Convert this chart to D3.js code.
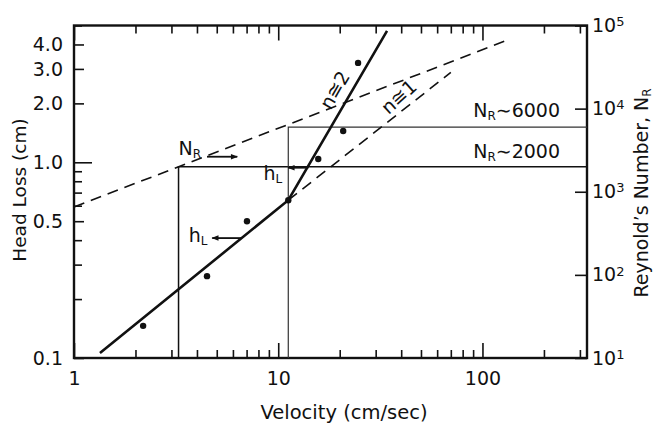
<!DOCTYPE html>
<html>
<head>
<meta charset="utf-8">
<script src="https://cdn.jsdelivr.net/npm/d3@7"></script>
<style>
    body { margin: 0; background: #fff; }
    svg text { font-family: "DejaVu Sans", sans-serif; fill: #111; }
</style>
</head>
<body>
<div id="chart-container"></div>
<script>
// Measured points (velocity cm/sec, head loss cm)
const pointVelocity = [2.18, 4.48, 7.03, 11.2, 15.7, 20.8, 24.6];
const pointHeadLoss = [0.146, 0.262, 0.5, 0.64, 1.04, 1.445, 3.22];

// Fitted head loss line: laminar part, then n≅2 part
const fitVelocity = [1.34, 11.2, 34.1];
const fitHeadLoss = [0.106, 0.64, 4.69];

// Laminar extension, n≅1 (dashed)
const laminarVelocity = [11.2, 70];
const laminarHeadLoss = [0.64, 2.88];

// Reynolds number against velocity (dashed, right axis)
const reVelocity = [1, 133];
const reNumber = [656, 67000];

// Critical Reynolds numbers and the velocities where they are reached
const criticalRe = [2000, 6000];
const criticalVelocity = [3.25, 11.2];
const criticalLabels = ["2000", "6000"];

// Tick labels
const xTickValues = [1, 10, 100];
const yTickValues = [0.1, 0.5, 1, 2, 3, 4];
const yTickLabels = ["0.1", "0.5", "1.0", "2.0", "3.0", "4.0"];
const reTickValues = [1e1, 1e2, 1e3, 1e4, 1e5];

// Chart dimensions
const margin = { top: 25.5, right: 68, bottom: 65, left: 74 };
const width = 655 - margin.left - margin.right;
const height = 423 - margin.top - margin.bottom;
const fontSize = 19;

const svg = d3
    .select("#chart-container")
    .append("svg")
    .attr("width", width + margin.left + margin.right)
    .attr("height", height + margin.top + margin.bottom)
    .append("g")
    .attr("transform", "translate(" + margin.left + "," + margin.top + ")");

// Scales
const x = d3.scaleLog().domain([1, 325]).range([0, width]);
const y = d3.scaleLog().domain([0.1, 5]).range([height, 0]);
const yRe = d3.scaleLog().domain([10, 1e5]).range([height, 0]);

const minorX = x.ticks().filter((d) => !xTickValues.includes(d));
const minorY = y.ticks().filter((d) => !yTickValues.some((v) => Math.abs(v - d) < 1e-9));

// arrow head
svg.append("defs")
    .append("marker")
    .attr("id", "arrow")
    .attr("viewBox", "0 0 10 10")
    .attr("refX", 9)
    .attr("refY", 5)
    .attr("markerWidth", 8)
    .attr("markerHeight", 7)
    .attr("markerUnits", "userSpaceOnUse")
    .attr("orient", "auto")
    .append("path")
    .attr("d", "M0,1 L10,5 L0,9 Z")
    .attr("fill", "#111");

function styleAxis(g) {
    g.select(".domain").remove();
    g.attr("font-size", fontSize).attr("font-family", "DejaVu Sans, sans-serif");
    g.selectAll(".tick line").attr("stroke", "#111").attr("stroke-width", 1.6);
}

// Bottom axis
svg.append("g")
    .attr("transform", "translate(0," + height + ")")
    .call(d3.axisBottom(x).tickValues(minorX).tickSizeInner(-8).tickSizeOuter(0).tickFormat(""))
    .call(styleAxis);
svg.append("g")
    .attr("transform", "translate(0," + height + ")")
    .call(d3.axisBottom(x).tickValues(xTickValues).tickSizeInner(-15).tickSizeOuter(0).tickPadding(14).tickFormat(d3.format("d")))
    .call(styleAxis);

// Top axis
svg.append("g")
    .call(d3.axisTop(x).tickValues(minorX).tickSizeInner(-8).tickSizeOuter(0).tickFormat(""))
    .call(styleAxis);
svg.append("g")
    .call(d3.axisTop(x).tickValues(xTickValues).tickSizeInner(-15).tickSizeOuter(0).tickFormat(""))
    .call(styleAxis);

// Left axis
svg.append("g")
    .call(d3.axisLeft(y).tickValues(minorY).tickSizeInner(-8).tickSizeOuter(0).tickFormat(""))
    .call(styleAxis);
svg.append("g")
    .call(d3.axisLeft(y).tickValues(yTickValues).tickSizeInner(-10).tickSizeOuter(0).tickPadding(11)
        .tickFormat((d, i) => yTickLabels[i]))
    .call(styleAxis)
    .call((g) => g.selectAll(".tick line").filter((d) => d === 1).attr("x2", 18));

// Right axis (Reynold's number)
svg.append("g")
    .attr("transform", "translate(" + width + ",0)")
    .call(d3.axisRight(yRe).tickValues(reTickValues).tickSizeInner(-12).tickSizeOuter(0).tickPadding(5).tickFormat(""))
    .call(styleAxis)
    .call((g) => {
        const t = g.selectAll(".tick text");
        t.append("tspan").text("10");
        t.append("tspan").attr("dy", "-0.45em").attr("font-size", 13).text((d) => Math.round(Math.log10(d)));
    });

// Frame
svg.append("rect")
    .attr("width", width)
    .attr("height", height)
    .attr("fill", "none")
    .attr("stroke", "#111")
    .attr("stroke-width", 2.4);

// Critical Reynolds number lines
criticalRe.forEach((re, i) => {
    const cx = x(criticalVelocity[i]);
    const cy = yRe(re);
    svg.append("path")
        .attr("d", "M" + width + "," + cy + "H" + cx + "V" + height)
        .attr("fill", "none")
        .attr("stroke", i === 0 ? "#111" : "#333")
        .attr("stroke-width", i === 0 ? 1.5 : 1.2);

    const lab = svg.append("text")
        .attr("x", width - 27)
        .attr("y", cy - (i === 0 ? 9 : 10))
        .attr("text-anchor", "end")
        .attr("font-size", fontSize);
    lab.append("tspan").text("N");
    lab.append("tspan").attr("font-size", 12).attr("dy", 3).text("R");
    lab.append("tspan").attr("dy", -3).text("\u223C" + criticalLabels[i]);
});

const line = d3.line().x((d) => x(d[0])).y((d) => y(d[1]));
const lineRe = d3.line().x((d) => x(d[0])).y((d) => yRe(d[1]));

// Dashed lines
svg.append("path")
    .datum(d3.zip(reVelocity, reNumber))
    .attr("d", lineRe)
    .attr("fill", "none")
    .attr("stroke", "#111")
    .attr("stroke-width", 1.6)
    .attr("stroke-dasharray", "11,7");

svg.append("path")
    .datum(d3.zip(laminarVelocity, laminarHeadLoss))
    .attr("d", line)
    .attr("fill", "none")
    .attr("stroke", "#111")
    .attr("stroke-width", 1.6)
    .attr("stroke-dasharray", "11,7");

// Fitted head loss line
svg.append("path")
    .datum(d3.zip(fitVelocity, fitHeadLoss))
    .attr("d", line)
    .attr("fill", "none")
    .attr("stroke", "#111")
    .attr("stroke-width", 2.6);

// Data points
svg.selectAll("circle.pt")
    .data(d3.zip(pointVelocity, pointHeadLoss))
    .enter()
    .append("circle")
    .attr("class", "pt")
    .attr("cx", (d) => x(d[0]))
    .attr("cy", (d) => y(d[1]))
    .attr("r", 3.2)
    .attr("fill", "#111");

// Annotations
function nrText(sel) {
    sel.append("tspan").text("N");
    sel.append("tspan").attr("font-size", 12).attr("dy", 3).text("R");
}
function hlText(sel) {
    sel.append("tspan").text("h");
    sel.append("tspan").attr("font-size", 12).attr("dy", 3).text("L");
}
function arrow(x1, y1, x2, y2) {
    svg.append("line")
        .attr("x1", x1).attr("y1", y1)
        .attr("x2", x2).attr("y2", y2)
        .attr("stroke", "#111")
        .attr("stroke-width", 1.8)
        .attr("marker-end", "url(#arrow)");
}

const y2000 = yRe(criticalRe[0]);

svg.append("text")
    .attr("x", x(criticalVelocity[0]))
    .attr("y", y2000 - 12)
    .attr("font-size", fontSize)
    .call(nrText);
arrow(x(4.48), y2000 - 10, x(6.3), y2000 - 10);

svg.append("text")
    .attr("x", x(criticalVelocity[1]) - 6)
    .attr("y", y2000 + 13)
    .attr("text-anchor", "end")
    .attr("font-size", fontSize)
    .call(hlText);
arrow(x(criticalVelocity[1]) + 20, y2000 + 1, x(criticalVelocity[1]), y2000 + 1);

svg.append("text")
    .attr("x", x(4.5))
    .attr("y", y(0.39))
    .attr("text-anchor", "end")
    .attr("font-size", fontSize)
    .call(hlText);
arrow(x(6.6), y(0.41), x(4.75), y(0.41));

svg.append("text")
    .attr("transform", "translate(" + x(18.9) + "," + y(2.34) + ") rotate(-60)")
    .attr("text-anchor", "middle")
    .attr("dy", "0.35em")
    .attr("font-size", fontSize)
    .text("n\u22452");

svg.append("text")
    .attr("transform", "translate(" + x(39) + "," + y(2.16) + ") rotate(-42)")
    .attr("text-anchor", "middle")
    .attr("dy", "0.35em")
    .attr("font-size", fontSize)
    .text("n\u22451");

// Axis titles
svg.append("text")
    .attr("x", 270)
    .attr("y", height + 61)
    .attr("text-anchor", "middle")
    .attr("font-size", 19.5)
    .text("Velocity (cm/sec)");

svg.append("text")
    .attr("transform", "translate(" + (26 - margin.left) + "," + (190 - margin.top) + ") rotate(-90)")
    .attr("text-anchor", "middle")
    .attr("font-size", 18.5)
    .text("Head Loss (cm)");

const rt = svg.append("text")
    .attr("transform", "translate(" + (648 - margin.left) + "," + (193 - margin.top) + ") rotate(-90)")
    .attr("text-anchor", "middle")
    .attr("font-size", fontSize);
rt.append("tspan").text("Reynold\u2019s Number, ");
rt.call(nrText);
</script>
</body>
</html>
